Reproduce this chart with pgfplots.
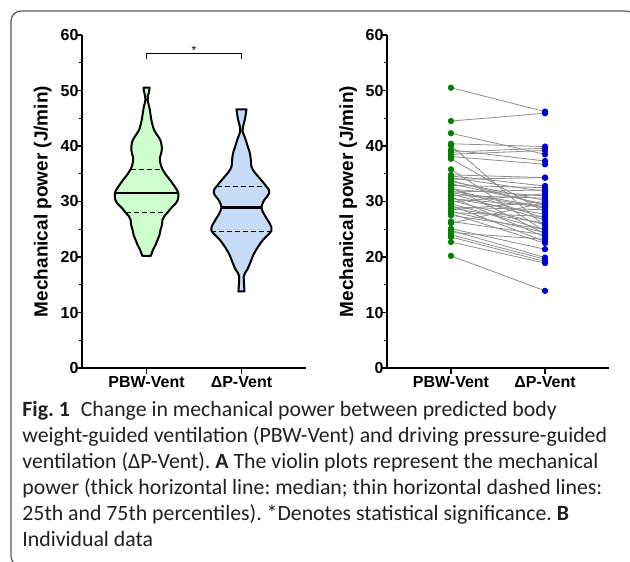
\documentclass[border=0pt]{standalone}
\usepackage{fontspec}
\setmainfont{Liberation Sans}
\newfontfamily\capfont{Carlito}
\usepackage{pgfplots}
\pgfplotsset{compat=1.18}
\usepgfplotslibrary{fillbetween}
\usepackage{pgfplotstable}

\definecolor{vgreen}{RGB}{204,255,204}
\definecolor{vblue}{RGB}{198,219,245}
\definecolor{dotgreen}{RGB}{0,128,0}
\definecolor{dotblue}{RGB}{0,0,204}
\definecolor{pairline}{RGB}{140,140,140}
\definecolor{framecol}{RGB}{90,90,90}
\definecolor{captext}{RGB}{35,31,32}

% violin outlines: y value and half width (x units)
\pgfplotstableread{
y w
20.2 0.045
20.6 0.053
21.3 0.068
22.2 0.095
23.1 0.116
24.0 0.137
24.9 0.147
25.8 0.163
26.7 0.168
27.4 0.189
28.0 0.221
28.8 0.258
29.6 0.305
30.3 0.329
31.0 0.335
31.5 0.334
32.2 0.316
33.0 0.284
33.9 0.247
34.8 0.205
35.8 0.168
36.8 0.147
37.8 0.140
38.6 0.153
39.3 0.161
40.2 0.158
41.1 0.144
42.0 0.111
42.9 0.079
43.8 0.063
44.7 0.051
45.6 0.042
46.5 0.035
47.5 0.022
48.3 0.012
49.0 0.015
49.8 0.026
50.5 0.032
}\pbwviolin

\pgfplotstableread{
y w
13.8 0.032
14.5 0.029
15.3 0.026
16.5 0.024
17.1 0.037
17.7 0.060
18.6 0.084
19.5 0.105
20.4 0.126
21.3 0.155
22.2 0.189
23.1 0.228
23.9 0.274
24.7 0.316
25.3 0.316
25.8 0.305
26.7 0.274
27.6 0.242
28.3 0.221
28.9 0.211
29.6 0.221
30.3 0.242
31.0 0.274
31.5 0.292
32.1 0.289
32.7 0.263
33.6 0.221
34.5 0.176
35.4 0.132
36.3 0.105
37.2 0.100
38.1 0.095
39.0 0.084
39.8 0.068
40.5 0.056
41.5 0.037
42.6 0.013
43.6 0.018
44.7 0.035
45.6 0.044
46.6 0.053
}\dpviolin

% paired values: a = PBW-Vent, b = dP-Vent
\pgfplotstableread{
a b
50.5 46.2
44.5 45.9
42.3 38.5
40.4 39.9
40.1 25.5
39.3 37.3
38.9 39.6
38.5 39.2
38.1 36.7
37.7 28.1
35.8 24.6
34.8 34.3
34.6 32.8
34.3 31.8
34.0 34.3
33.8 29.3
33.6 30.2
33.2 29.5
32.9 32.5
32.6 24.2
32.4 27.0
32.2 31.0
31.9 29.0
31.7 32.1
31.6 28.8
31.4 26.7
31.1 30.6
30.8 23.6
30.6 27.7
30.5 29.1
30.2 25.8
29.9 31.4
29.6 24.9
29.3 22.8
29.0 28.5
28.8 26.1
28.5 30.0
28.2 24.4
28.0 27.3
27.8 22.5
27.5 25.0
26.4 24.0
26.1 29.8
25.1 21.4
24.8 19.9
24.4 23.2
24.0 19.6
23.6 19.2
22.7 18.9
20.2 13.9
}\pairs

\pgfplotsset{
  mp axis/.style={
    scale only axis, height=166.5pt, anchor=south west,
    axis lines=left, axis line style={-, line width=0.7pt},
    ymin=0, ymax=60, ytick={0,10,...,60}, minor y tick num=1,
    xmin=0.32, xmax=2.68, xtick={1,2},
    xticklabels={PBW-Vent, ΔP-Vent},
    tick align=outside, major tick length=2.8pt, minor tick length=1.6pt,
    tick style={black, line width=0.7pt},
    /pgf/number format/assume math mode=true,
    ticklabel style={font=\bfseries\fontsize{8}{9}\selectfont},
    yticklabel style={inner xsep=0pt, xshift=1.2pt},
    xticklabel style={inner ysep=1.2pt},
    ylabel={Mechanical power (J/min)},
    ylabel style={font=\bfseries\fontsize{9.5}{11}\selectfont,
      at={(axis description cs:-0.175,0.5)}, anchor=center},
    clip=false,
  },
  q line/.style={black, line width=0.65pt, dash pattern=on 2.5pt off 1.5pt},
  m line/.style={black, line width=1.15pt},
  v side/.style={draw=none, smooth, tension=0.5},
}

\begin{document}
\begin{tikzpicture}
\begin{scope}
\clip (0,0) rectangle (315pt,-280.5pt);
\draw[framecol, line width=0.6pt, rounded corners=5pt] (5.5pt,-5.5pt) rectangle (318pt,-283pt);
\end{scope}

% A: violin plots
\begin{axis}[mp axis, at={(41pt,-184pt)}, width=112pt]
\addplot[v side, name path=pR] table[x expr=1+\thisrow{w}, y=y]{\pbwviolin};
\addplot[v side, name path=pL] table[x expr=1-\thisrow{w}, y=y]{\pbwviolin};
\addplot[fill=vgreen, draw=black, line width=1pt, line join=round]
  fill between[of=pR and pL, reverse=true];
\addplot[v side, name path=dR] table[x expr=2+\thisrow{w}, y=y]{\dpviolin};
\addplot[v side, name path=dL] table[x expr=2-\thisrow{w}, y=y]{\dpviolin};
\addplot[fill=vblue, draw=black, line width=1pt, line join=round]
  fill between[of=dR and dL, reverse=true];
\addplot[m line] coordinates {(0.666,31.5) (1.334,31.5)};
\addplot[q line] coordinates {(0.779,28.0) (1.221,28.0)};
\addplot[q line] coordinates {(0.832,35.8) (1.168,35.8)};
\addplot[m line] coordinates {(1.789,28.9) (2.211,28.9)};
\addplot[q line] coordinates {(1.684,24.6) (2.316,24.6)};
\addplot[q line] coordinates {(1.737,32.7) (2.263,32.7)};
\draw[line width=0.6pt] (axis cs:1,55.7) |- (axis cs:2,56.6) -- (axis cs:2,55.7);
\node[font=\fontsize{6}{6}\selectfont] at (axis cs:1.5,57.3) {*};
\end{axis}

% B: individual data
\begin{axis}[mp axis, at={(193.5pt,-184pt)}, width=111pt]
\addplot[pairline, line width=0.4pt, no markers,
  quiver={u={1}, v={\thisrow{b}-\thisrow{a}}}] table[x expr=1, y=a]{\pairs};
\addplot[only marks, mark=*, mark size=1.35pt, dotgreen] table[x expr=1, y=a]{\pairs};
\addplot[only marks, mark=*, mark size=1.35pt, dotblue] table[x expr=2, y=b]{\pairs};
\end{axis}

% caption; base anchor is the baseline of its last line
\node[anchor=base west, align=left, inner sep=0pt, text=captext,
  font=\capfont\fontsize{10.9}{13}\selectfont\frenchspacing] at (11pt,-273pt) {%
\textbf{Fig. 1}\enspace Change in mechanical power between predicted body\\
weight-guided ventilation (PBW-Vent) and driving pressure-guided\\
ventilation (ΔP-Vent). \textbf{A} The violin plots represent the mechanical\\
power (thick horizontal line: median; thin horizontal dashed lines:\\
25th and 75th percentiles). *Denotes statistical significance. \textbf{B}\\
Individual data};
\pgfresetboundingbox
\path[use as bounding box] (0,0) rectangle (315pt,-280.5pt);
\end{tikzpicture}
\end{document}
